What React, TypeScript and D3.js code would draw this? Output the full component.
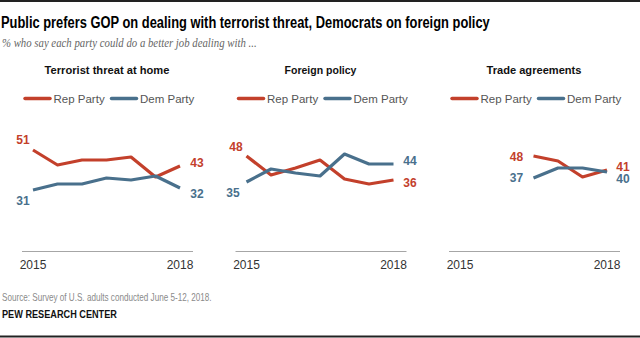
import React, { useEffect, useRef, useState } from "react";
import * as d3 from "d3";

// ---------- data ----------
const waves = ["W1", "W2", "W3", "W4", "W5", "W6", "W7"];
const tickWaves = ["W1", "W7"];
const tickLabels = ["2015", "2018"];
const seriesNames = ["Rep Party", "Dem Party"];
const panelTitles = ["Terrorist threat at home", "Foreign policy", "Trade agreements"];

const terrorRep: (number | null)[] = [51, 43.5, 46, 46, 47.5, 37.5, 43];
const terrorDem: (number | null)[] = [31, 34, 34, 37, 36, 38, 32];
const foreignRep: (number | null)[] = [48, 38.5, 42, 46, 36.5, 34, 36];
const foreignDem: (number | null)[] = [35, 41.5, 39.5, 38, 49, 44, 44];
const tradeRep: (number | null)[] = [null, null, null, 48, 45.5, 37.5, 41];
const tradeDem: (number | null)[] = [null, null, null, 37, 42, 42, 40];

// ---------- styling / layout ----------
const REP = "#c3402b";
const DEM = "#49708c";
const colors = [REP, DEM];
const panelOffsets = [0, 213.5, 427];
const titleWidths = [125, 72, 95];
// label offsets [startDx, startDy, endDx, endDy] per series per panel
const labelOffsets = [
  [[-10, -6, 17, 1], [-10, 15, 17, 10]],
  [[-10.5, -5, 16.5, 7], [-13.5, 15, 16.5, 1]],
  [[-17, 5, 16, 0.5], [-17, 4, 16, 11]],
];

const x = d3.scalePoint<string>().domain(waves).range([33, 180]);
const y = d3.scaleLinear().domain([0, 60]).range([252, 132]);

const SANS = "'Liberation Sans', Arial, sans-serif";

// text squeezed horizontally to a target width through a real transform
function FitText({
  x0,
  y0,
  width,
  anchor = "start",
  children,
  ...rest
}: any) {
  const ref = useRef<SVGTextElement>(null);
  const [k, setK] = useState(1);
  useEffect(() => {
    if (ref.current) {
      const len = ref.current.getComputedTextLength();
      if (len > 0) setK(width / len);
    }
  }, [width, children]);
  return (
    <text ref={ref} transform={`translate(${x0},${y0}) scale(${k},1)`} textAnchor={anchor} {...rest}>
      {children}
    </text>
  );
}

function Panel({ idx, rep, dem }: { idx: number; rep: (number | null)[]; dem: (number | null)[] }) {
  const series = [rep, dem];
  const line = d3
    .line<number | null>()
    .defined((d) => d != null)
    .x((_, i) => x(waves[i]) as number)
    .y((d) => y(d as number));
  return (
    <g transform={`translate(${panelOffsets[idx]},0)`}>
      <FitText
        x0={107}
        y0={74}
        width={titleWidths[idx]}
        anchor="middle"
        fontFamily={SANS}
        fontWeight="bold"
        fontSize={11.5}
        fill="#111"
      >
        {panelTitles[idx]}
      </FitText>
      {/* legend */}
      {seriesNames.map((name, i) => {
        const lx = 25 + i * 86.5;
        return (
          <g key={name}>
            <line x1={lx} x2={lx + 25} y1={98.5} y2={98.5} stroke={colors[i]} strokeWidth={3.5} strokeLinecap="round" />
            <text x={lx + 28.5} y={102.5} fontFamily={SANS} fontSize={11.5} fill="#555">
              {name}
            </text>
          </g>
        );
      })}
      {/* axis */}
      <line x1={22} x2={193} y1={y(0) - 0.5} y2={y(0) - 0.5} stroke="#a6a6a6" strokeWidth={1} />
      {tickWaves.map((w, i) => (
        <text key={w} x={x(w)} y={269} textAnchor="middle" fontFamily={SANS} fontSize={12} fill="#333">
          {tickLabels[i]}
        </text>
      ))}
      {/* lines */}
      {series.map((s, si) => (
        <path
          key={si}
          d={line(s) || ""}
          fill="none"
          stroke={colors[si]}
          strokeWidth={3.2}
          strokeLinejoin="round"
          strokeLinecap="butt"
        />
      ))}
      {/* value labels */}
      {series.map((s, si) => {
        const first = s.findIndex((v) => v != null);
        const last = s.length - 1;
        const off = labelOffsets[idx][si];
        return (
          <g key={"l" + si} fontFamily={SANS} fontWeight="bold" fontSize={12} fill={colors[si]} textAnchor="middle">
            <text x={(x(waves[first]) as number) + off[0]} y={y(s[first] as number) + off[1]}>
              {s[first]}
            </text>
            <text x={(x(waves[last]) as number) + off[2]} y={y(s[last] as number) + off[3]}>
              {s[last]}
            </text>
          </g>
        );
      })}
    </g>
  );
}

export default function App() {
  return (
    <div style={{ position: "absolute", left: 0, top: 0 }}>
      <svg width={640} height={338} style={{ display: "block", background: "#fff" }}>
        <line x1={0} x2={640} y1={1} y2={1} stroke="#222" strokeWidth={2} />
        <FitText
          x0={1}
          y0={28}
          width={489}
          fontFamily="'Liberation Sans Narrow', 'Liberation Sans', Arial, sans-serif"
          fontWeight="bold"
          fontSize={17}
          fill="#000"
        >
          Public prefers GOP on dealing with terrorist threat, Democrats on foreign policy
        </FitText>
        <FitText
          x0={2}
          y0={47}
          width={255}
          fontFamily="'Liberation Serif', 'DejaVu Serif', serif"
          fontStyle="italic"
          fontSize={12.5}
          fill="#666"
        >
          % who say each party could do a better job dealing with ...
        </FitText>
        <Panel idx={0} rep={terrorRep} dem={terrorDem} />
        <Panel idx={1} rep={foreignRep} dem={foreignDem} />
        <Panel idx={2} rep={tradeRep} dem={tradeDem} />
        <FitText x0={2} y0={300.5} width={210} fontFamily={SANS} fontSize={10.5} fill="#8a8a8a">
          Source: Survey of U.S. adults conducted June 5-12, 2018.
        </FitText>
        <FitText x0={2} y0={318} width={115} fontFamily={SANS} fontWeight="bold" fontSize={10.5} fill="#111">
          PEW RESEARCH CENTER
        </FitText>
        <line x1={0} x2={640} y1={336.5} y2={336.5} stroke="#222" strokeWidth={2} />
      </svg>
    </div>
  );
}
